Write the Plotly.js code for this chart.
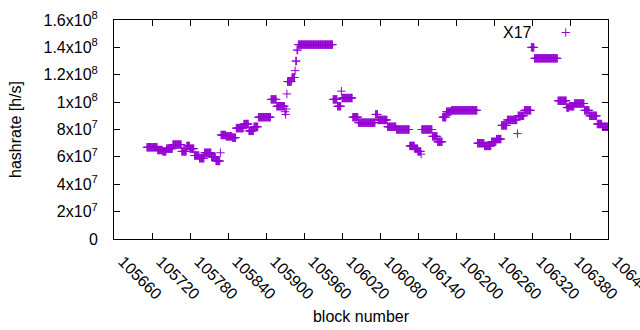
<!DOCTYPE html>
<html>
<head>
<meta charset="utf-8">
<script src="https://cdn.plot.ly/plotly-3.0.1.min.js"></script>
<style>html,body{margin:0;padding:0;background:#fff;}#chart{width:640px;height:330px;}</style>
</head>
<body>
<div id="chart"></div>
<script>
// Hashrate per block (millions of h/s), one value per block
const firstBlock = 105712;
const hashrateM = [
  67,67,67,67,67,67,67,67,67,67,67,67,67,67,67,67,67,
  65,65,65,65,65,65,65,65,
  64,64,64,64,64,64,
  66,66,66,66,66,66,66,66,66,66,
  69,69,69,69,69,69,69,69,69,69,69,69,69,69,
  64,64,64,64,64,64,64,64,
  68,68,68,68,68,
  66,66,66,66,66,66,66,
  61,61,61,61,61,61,61,61,
  59,59,59,59,59,59,59,59,
  63,63,63,63,63,63,63,63,63,63,63,
  60,60,60,60,60,60,60,
  57,57,57,57,57,57,57,
  63,
  76,76,76,76,76,76,76,76,
  75,75,75,75,75,75,75,75,75,75,
  74,74,74,74,74,74,
  81,81,81,81,81,81,81,81,81,81,81,81,
  84,84,84,84,84,84,84,84,
  79,79,79,79,79,79,79,79,
  82,82,82,82,82,82,82,
  89,89,89,89,89,89,89,89,89,89,89,89,89,89,89,89,89,89,89,89,
  102,102,102,102,102,102,102,102,102,
  97,97,97,97,97,97,97,97,97,97,97,97,97,
  93,91,95,
  106,
  115,115,115,115,115,115,115,
  118,118,118,118,118,
  123,
  130,130,
  138,138,
  142,142,142,142,142,142,142,142,142,142,
  142,142,142,142,142,142,142,142,142,142,
  142,142,142,142,142,142,142,142,142,142,
  142,142,142,142,142,142,142,142,142,142,
  142,142,142,142,142,142,142,142,142,142,
  142,142,142,142,142,
  102,102,102,102,102,102,102,
  97,97,97,97,97,97,
  108,
  103,103,103,103,103,103,103,103,103,103,103,103,103,103,103,103,103,
  89,89,89,89,89,89,89,89,89,
  85,85,85,85,85,85,85,85,85,85,85,85,85,85,85,85,85,85,85,85,85,85,85,85,85,85,85,
  91,91,91,91,
  87,87,87,87,87,87,87,87,87,87,87,87,87,87,87,
  82,82,82,82,82,82,82,82,82,82,82,82,82,82,
  80,80,80,80,80,80,80,80,80,80,80,80,80,80,80,80,80,80,80,80,80,
  68,68,68,68,68,68,68,68,
  66,66,66,66,66,
  64,64,64,64,64,
  62,
  80,80,80,80,80,80,80,80,80,80,80,80,80,80,80,80,80,
  75,75,75,75,75,75,75,75,
  71,71,71,71,71,71,71,71,
  89,89,89,89,89,89,
  93,93,93,93,93,93,93,93,
  94,94,94,94,94,94,94,94,94,94,
  94,94,94,94,94,94,94,94,94,94,
  94,94,94,94,94,94,94,94,94,94,
  94,94,94,94,94,94,94,94,94,94,
  94,
  70,70,70,70,70,70,70,70,70,70,70,
  68,68,68,68,68,68,68,68,68,68,68,
  71,71,71,71,71,71,71,71,
  73,73,73,73,73,73,73,73,
  83,83,83,83,83,83,83,83,83,
  87,87,87,87,87,87,87,87,87,87,87,87,87,87,87,87,
  77,
  90,90,90,90,90,90,90,90,90,90,
  94,94,94,94,94,94,94,94,94,94,94,
  140,140,140,140,140,
  132,132,132,132,132,132,132,132,132,132,
  132,132,132,132,132,132,132,132,132,132,
  132,132,132,132,132,132,132,132,132,132,
  132,132,132,132,132,132,132,
  101,101,101,101,101,101,101,101,101,101,101,101,101,101,
  96,96,96,96,
  97,97,97,97,97,97,97,97,
  99,99,99,99,99,99,99,99,99,99,99,99,99,99,99,99,
  94,94,94,94,94,94,94,94,
  90,90,90,90,90,90,90,90,90,90,90,90,
  84,84,84,84,84,84,84,84,
  82,82,82,82,82,82,82,82,82,82
];
const blockNumbers = hashrateM.map((_, i) => firstBlock + i);

const xTickVals = [105660,105720,105780,105840,105900,105960,106020,106080,106140,106200,106260,106320,106380,106440];
const xTickText = ['105660','105720','105780','105840','105900','105960','106020','106080','106140','106200','106260','106320','106380','106440'];
const yTickVals = [0,20,40,60,80,100,120,140,160];
const yTickText = ['0','2x10<sup>7</sup>','4x10<sup>7</sup>','6x10<sup>7</sup>','8x10<sup>7</sup>','1x10<sup>8</sup>','1.2x10<sup>8</sup>','1.4x10<sup>8</sup>','1.6x10<sup>8</sup>'];
const seriesName = 'X17';

const FONT = 'Liberation Sans, Arial, sans-serif';
const purple = '#9400d3';

const trace = {
  type: 'scatter',
  mode: 'markers',
  x: blockNumbers,
  y: hashrateM,
  name: '',
  showlegend: true,
  marker: {symbol: 'cross-thin', size: 6, line: {color: purple, width: 1}, color: purple}
};

const layout = {
  width: 640, height: 330,
  margin: {l: 114, r: 32, t: 20, b: 91},
  paper_bgcolor: '#fff', plot_bgcolor: '#fff',
  font: {family: FONT, size: 16, color: '#000'},
  showlegend: true,
  legend: {x: 0.874, y: 1.02, xanchor: 'left', yanchor: 'top', bgcolor: 'rgba(0,0,0,0)', font: {size: 16}},
  xaxis: {
    range: [105660, 106440],
    tickmode: 'array', tickvals: xTickVals, ticktext: xTickText,
    tickangle: 45, ticklabeloverflow: 'allow',
    ticklabelshift: 9, ticklabelstandoff: 6,
    ticks: 'inside', ticklen: 6, tickcolor: '#000',
    showline: true, linecolor: '#000', linewidth: 1, mirror: 'ticks',
    showgrid: false, zeroline: false,
    tickfont: {family: FONT, size: 16},
    title: {text: 'block number', font: {family: FONT, size: 16}, standoff: 8}
  },
  yaxis: {
    range: [0, 160],
    tickmode: 'array', tickvals: yTickVals, ticktext: yTickText,
    ticks: 'inside', ticklen: 6, tickcolor: '#000',
    ticklabelstandoff: 12,
    showline: true, linecolor: '#000', linewidth: 1, mirror: 'ticks',
    showgrid: false, zeroline: false,
    tickfont: {family: FONT, size: 16},
    title: {text: 'hashrate [h/s]', font: {family: FONT, size: 16}, standoff: 17}
  },
  annotations: [{
    xref: 'paper', yref: 'paper', x: 0.85, y: 0.945, xanchor: 'right', yanchor: 'middle',
    text: seriesName, showarrow: false, font: {family: FONT, size: 16}
  }]
};

Plotly.newPlot('chart', [trace], layout, {displayModeBar: false, staticPlot: true});
</script>
</body>
</html>
